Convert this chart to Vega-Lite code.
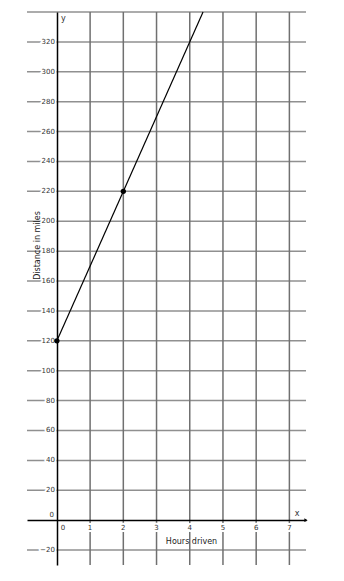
{
  "$schema": "https://vega.github.io/schema/vega-lite/v6.json",
  "width": 279,
  "height": 553,
  "autosize": "none",
  "padding": {"left": 27, "top": 12, "right": 38, "bottom": 16},
  "background": "white",
  "config": {"view": {"stroke": null}, "font": "DejaVu Sans"},
  "datasets": {
    "line": [{"hours": 0, "miles": 120}, {"hours": 4.4, "miles": 340}],
    "pts": [{"hours": 0, "miles": 120}, {"hours": 2, "miles": 220}],
    "yg": [{"v": -20}, {"v": 20}, {"v": 40}, {"v": 60}, {"v": 80}, {"v": 100}, {"v": 120}, {"v": 140}, {"v": 160}, {"v": 180}, {"v": 200}, {"v": 220}, {"v": 240}, {"v": 260}, {"v": 280}, {"v": 300}, {"v": 320}, {"v": 340}],
    "yt": [{"v": -20}, {"v": 20}, {"v": 40}, {"v": 60}, {"v": 80}, {"v": 100}, {"v": 120}, {"v": 140}, {"v": 160}, {"v": 180}, {"v": 200}, {"v": 220}, {"v": 240}, {"v": 260}, {"v": 280}, {"v": 300}, {"v": 320}],
    "y0": [{"v": 0}],
    "xt": [{"v": 1}, {"v": 2}, {"v": 3}, {"v": 4}, {"v": 5}, {"v": 6}, {"v": 7}],
    "x0": [{"v": 0}]
  },
  "layer": [
    {
      "data": {"name": "yg"},
      "mark": {"type": "rule", "color": "#909090", "strokeWidth": 1.5},
      "encoding": {
        "y": {"field": "v", "type": "quantitative", "scale": {"domain": [-30, 340], "nice": false, "zero": false}}
      }
    },
    {
      "data": {"name": "xt"},
      "mark": {"type": "rule", "color": "#707070", "strokeWidth": 1.5},
      "encoding": {
        "x": {"field": "v", "type": "quantitative", "scale": {"domain": [-0.9, 7.5], "nice": false, "zero": false}}
      }
    },
    {
      "data": {"name": "line"},
      "mark": {"type": "line", "color": "black", "strokeWidth": 1.2},
      "encoding": {
        "x": {
          "field": "hours", "type": "quantitative",
          "scale": {"domain": [-0.9, 7.5], "nice": false, "zero": false},
          "axis": {
            "grid": false, "labels": false, "ticks": false,
            "domainColor": "black", "domainWidth": 1.5,
            "offset": -45, "zindex": 1,
            "title": "Hours driven", "titleFont": "DejaVu Sans", "titleFontSize": 8, "titleFontWeight": "normal",
            "titleColor": "#222", "titleX": 164, "titleY": 21, "titleBaseline": "middle", "titleAlign": "center"
          }
        },
        "y": {
          "field": "miles", "type": "quantitative",
          "scale": {"domain": [-30, 340], "nice": false, "zero": false},
          "axis": {
            "grid": false, "labels": false, "ticks": false,
            "domainColor": "black", "domainWidth": 1.5,
            "offset": -30, "zindex": 1,
            "title": "Distance in miles", "titleFont": "DejaVu Sans", "titleFontSize": 8, "titleFontWeight": "normal",
            "titleColor": "#222", "titleX": -20, "titleY": 233, "titleAngle": -90, "titleBaseline": "middle", "titleAlign": "center"
          }
        }
      }
    },
    {
      "data": {"name": "yt"},
      "mark": {"type": "text", "align": "right", "baseline": "middle", "dx": -2, "fontSize": 7, "fill": "white", "stroke": "white", "strokeWidth": 4, "strokeJoin": "round"},
      "encoding": {"x": {"datum": 0}, "y": {"field": "v", "type": "quantitative"}, "text": {"field": "v", "type": "quantitative"}}
    },
    {
      "data": {"name": "yt"},
      "mark": {"type": "text", "align": "right", "baseline": "middle", "dx": -2, "fontSize": 7, "color": "#333"},
      "encoding": {"x": {"datum": 0}, "y": {"field": "v", "type": "quantitative"}, "text": {"field": "v", "type": "quantitative"}}
    },
    {
      "data": {"name": "y0"},
      "mark": {"type": "text", "align": "right", "baseline": "middle", "dx": -3, "dy": -5, "fontSize": 7, "color": "#333"},
      "encoding": {"x": {"datum": 0}, "y": {"field": "v", "type": "quantitative"}, "text": {"field": "v", "type": "quantitative"}}
    },
    {
      "data": {"name": "xt"},
      "mark": {"type": "text", "align": "center", "baseline": "top", "dy": 4, "fontSize": 7, "fill": "white", "stroke": "white", "strokeWidth": 4, "strokeJoin": "round"},
      "encoding": {"x": {"field": "v", "type": "quantitative"}, "y": {"datum": 0}, "text": {"field": "v", "type": "quantitative"}}
    },
    {
      "data": {"name": "xt"},
      "mark": {"type": "text", "align": "center", "baseline": "top", "dy": 4, "fontSize": 7, "color": "#333"},
      "encoding": {"x": {"field": "v", "type": "quantitative"}, "y": {"datum": 0}, "text": {"field": "v", "type": "quantitative"}}
    },
    {
      "data": {"name": "x0"},
      "mark": {"type": "text", "align": "center", "baseline": "top", "dx": 6, "dy": 4, "fontSize": 7, "color": "#333"},
      "encoding": {"x": {"field": "v", "type": "quantitative"}, "y": {"datum": 0}, "text": {"field": "v", "type": "quantitative"}}
    },
    {
      "data": {"name": "pts"},
      "mark": {"type": "point", "filled": true, "color": "black", "size": 28, "opacity": 1},
      "encoding": {"x": {"field": "hours", "type": "quantitative"}, "y": {"field": "miles", "type": "quantitative"}}
    },
    {
      "data": {"values": [{}]},
      "mark": {"type": "point", "shape": "triangle-right", "filled": true, "color": "black", "size": 14, "opacity": 1, "dx": -1},
      "encoding": {"x": {"datum": 7.5}, "y": {"datum": 0}}
    },
    {
      "data": {"values": [{}]},
      "mark": {"type": "text", "text": "x", "fontSize": 8, "color": "#333", "align": "center", "baseline": "middle", "dx": -9, "dy": -6},
      "encoding": {"x": {"datum": 7.5}, "y": {"datum": 0}}
    },
    {
      "data": {"values": [{}]},
      "mark": {"type": "text", "text": "y", "fontSize": 8, "color": "#333", "align": "left", "baseline": "middle", "dx": 4, "dy": 7},
      "encoding": {"x": {"datum": 0}, "y": {"datum": 340}}
    }
  ]
}
